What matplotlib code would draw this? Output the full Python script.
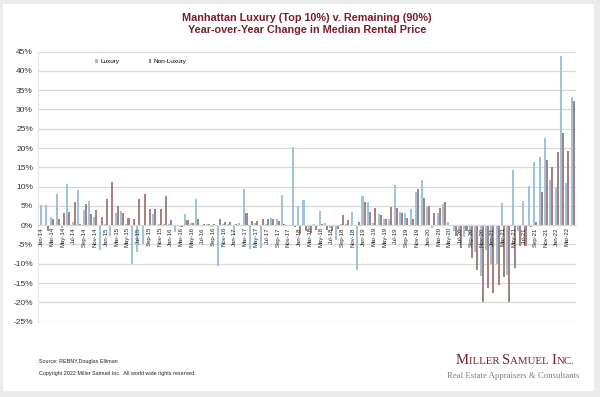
import numpy as np
import pandas as pd
import matplotlib
matplotlib.use('Agg')
import matplotlib.pyplot as plt
from matplotlib.patches import Rectangle
from matplotlib.offsetbox import TextArea, HPacker, AnnotationBbox

plt.rcParams['font.family'] = ['Liberation Sans', 'DejaVu Sans']

# 月份类别：Jan-14 ~ Apr-22
months = pd.date_range('2014-01-01', '2022-04-01', freq='MS').strftime('%b-%y').tolist()

# 豪华（前10%）同比变化 %
luxury = [
    5.2, 5.2, 2.1, 8.0, -0.8, 10.7, 0.9, 9.2, 3.9, 6.3,
    2.0, -6.5, 0.2, -2.9, 3.1, 3.8, 0.3, -10.0, -7.0, -5.0,
    -0.3, 2.8, 0.2, 0.3, 0.2, -1.8, -0.5, 2.9, 0.5, 6.8,
    -0.3, 0.2, -0.6, -10.7, 0.3, 0.2, -2.5, 0.5, 9.3, -6.2,
    0.5, -6.0, 0.3, 1.8, 1.5, 7.8, 0.1, 20.2, 5.0, 6.4,
    -1.0, 0.3, 3.8, 0.5, -0.8, -3.8, 0.2, 0.3, 3.3, -11.5,
    7.5, 5.9, 0.5, 2.8, 1.5, 1.5, 10.4, 3.4, 3.2, 4.3,
    8.6, 11.7, 4.7, -0.8, 3.1, 5.5, 0.7, -1.4, -2.0, -3.0,
    -2.5, -7.0, -13.3, -6.4, -10.0, -10.0, 5.8, -12.9, 14.3, -1.5,
    6.3, 10.1, 16.5, 17.7, 22.5, 11.7, 9.6, 43.8, 11.0, 33.3,
]

# 其余（90%）同比变化 %
non_luxury = [
    0.0, -1.4, 1.6, 1.6, 3.2, 3.4, 5.9, 0.3, 5.6, 2.8,
    3.9, 2.0, 6.8, 11.3, 5.0, 3.1, 1.9, 1.6, 6.7, 8.2,
    4.3, 4.1, 4.3, 7.5, 1.4, 0.1, -0.4, 1.3, 0.5, 1.6,
    0.2, 0.2, 0.3, 1.6, 0.8, 0.8, 0.3, -0.3, 3.1, 1.2,
    1.2, 1.6, 1.6, 1.6, 1.0, 0.2, -0.3, -0.5, -2.3, -1.5,
    -2.0, -1.3, 0.3, -1.2, -1.5, -1.0, 2.6, 1.4, 0.1, 0.7,
    6.1, 3.3, 4.4, 2.6, 1.5, 4.6, 4.5, 3.1, 1.8, 1.6,
    9.3, 7.0, 5.0, 3.1, 4.5, 6.1, -0.2, -2.9, -6.0, -1.5,
    -8.5, -11.5, -20.0, -16.2, -17.5, -15.5, -13.5, -19.8, -11.0, -5.5,
    -5.5, -0.5, 0.8, 8.5, 16.8, 15.0, 19.0, 23.9, 19.3, 32.2,
]

y_ticks = list(range(-25, 50, 5))

COL_LUX = '#9ec4dc'
COL_NON = '#a8827f'
COL_TITLE = '#7a1f2b'
COL_GRID = '#d9d9d9'

fig = plt.figure(figsize=(6, 3.97), dpi=100)
fig.patch.set_facecolor('#ebebeb')
# 白色卡片背景
fig.add_artist(Rectangle((3 / 600, 6 / 397), 591 / 600, 387 / 397,
                         transform=fig.transFigure, facecolor='white',
                         edgecolor='none', zorder=0))

ax = fig.add_axes([0.064, 0.19, 0.896, 0.68])
ax.patch.set_alpha(0)

x = np.arange(len(months))
w = 0.38
ax.bar(x - w / 2, luxury, w, color=COL_LUX, label='Luxury', zorder=2)
ax.bar(x + w / 2, non_luxury, w, color=COL_NON, label='Non-Luxury', zorder=2)

ax.set_xlim(-0.6, len(months) - 0.4)
ax.set_ylim(-25, 45)
ax.set_yticks(y_ticks)
ax.set_yticklabels([f'{t}%' for t in y_ticks])
ax.set_xticks(x[::2])
ax.set_xticklabels(months[::2])
ax.tick_params(axis='x', length=0, pad=1.5, labelrotation=90,
               labelsize=4.3, labelcolor='#222222')
ax.tick_params(axis='y', length=0, pad=4, labelsize=6, labelcolor='#333333')

ax.yaxis.grid(True, color=COL_GRID, linewidth=0.9)
ax.yaxis.set_zorder(0.5)
ax.xaxis.set_zorder(3)

for s in ['top', 'right']:
    ax.spines[s].set_visible(False)
ax.spines['bottom'].set_position(('data', 0))
ax.spines['bottom'].set_color(COL_GRID)
ax.spines['left'].set_color('#e6e6e6')

ax.legend(loc='center left', bbox_to_anchor=(0.095, 0.962), ncol=2,
          frameon=False, fontsize=4.6, handlelength=0.45, handleheight=0.45,
          handletextpad=0.4, columnspacing=4.5)

fig.text(0.512, 0.968,
         'Manhattan Luxury (Top 10%) v. Remaining (90%)\nYear-over-Year Change in Median Rental Price',
         ha='center', va='top', fontsize=7.8, fontweight='bold',
         color=COL_TITLE, linespacing=1.25)

# 页脚
fig.text(39 / 600, 1 - 362 / 397, 'Source: REBNY,Douglas Elliman',
         fontsize=3.9, va='center', color='#222222')
fig.text(39 / 600, 1 - 373 / 397,
         'Copyright 2022 Miller Samuel Inc.  All world wide rights reserved.',
         fontsize=3.9, va='center', color='#222222')

# 标志：小型大写字母
serif = ['Liberation Serif', 'DejaVu Serif']
parts = []
for word in ['Miller', 'Samuel', 'Inc.']:
    parts.append(TextArea(word[0], textprops=dict(fontsize=10.5, color='#7a1f2b', family=serif)))
    tail = word[1:].upper() + ('' if word == 'Inc.' else ' ')
    parts.append(TextArea(tail, textprops=dict(fontsize=7.8, color='#7a1f2b', family=serif)))
logo = HPacker(children=parts, align='baseline', pad=0, sep=0)
ab = AnnotationBbox(logo, (574 / 600, 1 - 360 / 397), xycoords='figure fraction',
                    box_alignment=(1, 0.5), frameon=False)
fig.add_artist(ab)
fig.text(513 / 600, 1 - 376 / 397, 'Real Estate Appraisers & Consultants',
         ha='center', va='center', fontsize=6.3, color='#7f7f7f', family=serif)

fig.savefig('out.png', dpi=100, facecolor=fig.get_facecolor())
